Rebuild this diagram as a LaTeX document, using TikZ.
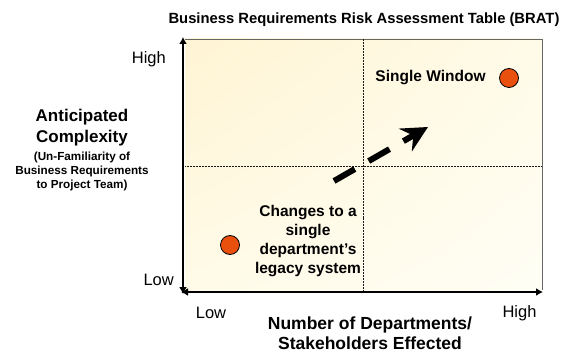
\documentclass[tikz,border=0pt]{standalone}
\usepackage{fontspec}
\setmainfont{Liberation Sans}
\usetikzlibrary{arrows.meta,shadings}
\definecolor{dotfill}{HTML}{E9500E}
\definecolor{ulc}{HTML}{FFF4D4}
\definecolor{urc}{HTML}{FFFBE8}
\definecolor{llc}{HTML}{FFFBE8}
\definecolor{lrc}{HTML}{FFFEF5}
\tikzset{
  dot/.style={circle, draw=black, line width=0.8pt, fill=dotfill, minimum size=19pt, inner sep=0pt},
  axis/.style={line width=2.8pt, {Latex[length=7pt,width=8pt]}-{Latex[length=7pt,width=8pt]}},
  midline/.style={line width=0.8pt, draw=black!90, dash pattern=on 1pt off 0.5pt},
  lbl/.style={inner sep=0pt, align=center, text=black},
  bigb/.style={lbl, font=\bfseries\fontsize{15.5}{19}\selectfont},
  axb/.style={lbl, font=\bfseries\fontsize{17.5}{19.5}\selectfont},
  tick/.style={lbl, font=\fontsize{16.5}{19}\selectfont},
}
\begin{document}
\begin{tikzpicture}[x=1pt,y=-1pt]
\useasboundingbox (0,0) rectangle (577,352);
% quadrant box
\shade[upper left=ulc, upper right=urc, lower left=llc, lower right=lrc] (185,39) rectangle (542,290);
\draw[black!60, line width=0.7pt] (185,39) -- (542,39) -- (542,290);
\coordinate (vt) at (363,39);
\coordinate (vb) at (363,290);
\coordinate (hl) at (185,166);
\coordinate (hr) at (542,166);
\draw[midline] (vt) -- (vb);
\draw[midline] (hl) -- (hr);
% axes
\coordinate (ybot) at (183,294);
\coordinate (ytop) at (183,37);
\coordinate (xl) at (181,292);
\coordinate (xr) at (543,292);
\draw[axis] (ybot) -- (ytop);
\draw[axis] (xl) -- (xr);
% title
\node[lbl, font=\bfseries\fontsize{14.8}{17}\selectfont] (title) at (364,20) {Business Requirements Risk Assessment Table (BRAT)};
% left labels
\node[tick, anchor=east] (yhigh) at (166,59) {High};
\node[tick, anchor=east] (ylow) at (174,280) {Low};
\node[lbl, font=\bfseries\fontsize{17}{21}\selectfont] (yt) at (82,127.5) {Anticipated\\Complexity};
\node[lbl, font=\bfseries\fontsize{11.7}{14}\selectfont] (ys) at (82,171) {(Un-Familiarity of\\Business Requirements\\to Project Team)};
% bottom labels
\node[tick] (xlow) at (211,313) {Low};
\node[tick] (xhigh) at (519.5,313) {High};
\node[axb] (xt) at (370,333) {Number of Departments/\\Stakeholders Effected};
% points
\node[dot] (sw) at (509,78) {};
\node[dot] (cd) at (230,245) {};
\node[bigb] (swl) at (430.5,78) {Single Window};
\node[bigb] (cdl) at (308,241.5) {Changes to a\\single\\department’s\\legacy system};
% trend arrow
\coordinate (as) at (334,181);
\coordinate (ae) at (428,127);
\draw[line width=6pt, dash pattern=on 24pt off 16pt, -{Stealth[length=26pt,width=26pt,inset=9pt]}] (as) -- (ae);
\end{tikzpicture}
\end{document}
